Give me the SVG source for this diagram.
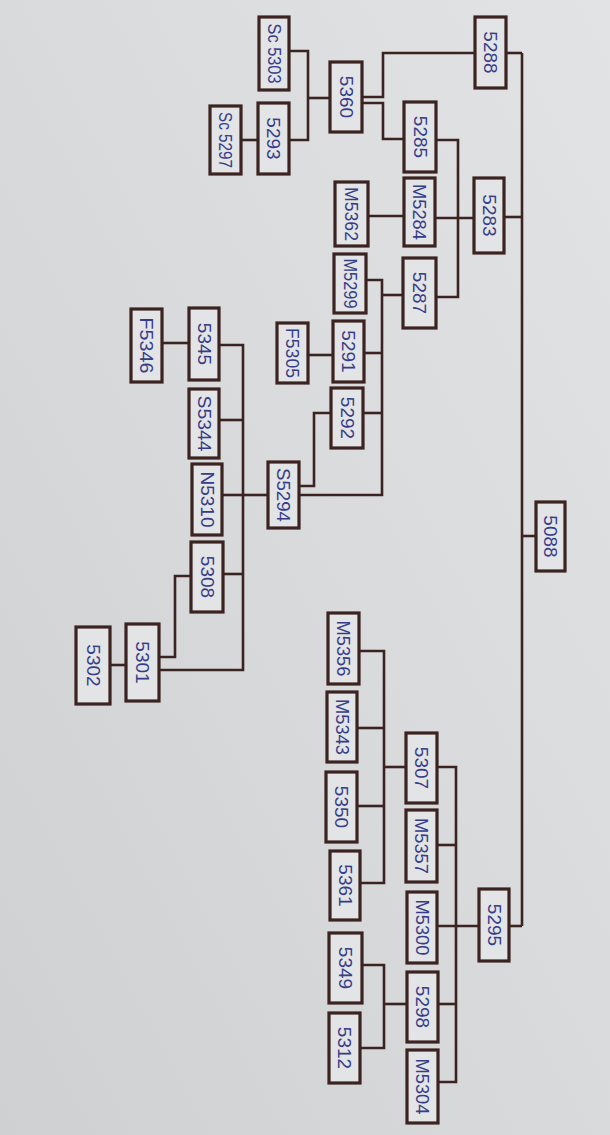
<svg xmlns="http://www.w3.org/2000/svg" width="610" height="1135" viewBox="0 0 610 1135">
<defs>
<linearGradient id="paper" x1="1" y1="0" x2="0" y2="1">
<stop offset="0" stop-color="#e2e3e4"/>
<stop offset="0.5" stop-color="#d9dadc"/>
<stop offset="1" stop-color="#cfd0d2"/>
</linearGradient>
<style>
.box{fill:#e3e4e6;stroke:#3a2320;stroke-width:3.2}
.ln{fill:none;stroke:#3a2320;stroke-width:2.6;stroke-linejoin:miter}
.t{font-family:"Liberation Sans",Arial,sans-serif;font-size:19px;fill:#363d88;text-anchor:middle;dominant-baseline:central}
</style>
</defs>
<rect width="610" height="1135" fill="url(#paper)"/>
<g id="connectors">
<path class="ln" d="M522,53 V926"/>
<path class="ln" d="M506,53 H522"/>
<path class="ln" d="M504,217 H522"/>
<path class="ln" d="M522,536 H536"/>
<path class="ln" d="M509,926 H522"/>
<path class="ln" d="M475,53 H383 V97 H362"/>
<path class="ln" d="M362,103 H383 V139 H404"/>
<path class="ln" d="M289,51 H308 V140 H289"/>
<path class="ln" d="M308,98 H330"/>
<path class="ln" d="M241,140 H258"/>
<path class="ln" d="M436,140 H458 V297 H436"/>
<path class="ln" d="M435,218 H474"/>
<path class="ln" d="M368,216 H404"/>
<path class="ln" d="M366,280 H382 V495 H299"/>
<path class="ln" d="M382,295 H403"/>
<path class="ln" d="M364,353 H382"/>
<path class="ln" d="M363,413 H382"/>
<path class="ln" d="M308,355 H333"/>
<path class="ln" d="M331,413 H314 V486 H299"/>
<path class="ln" d="M268,495 H243"/>
<path class="ln" d="M219,345 H243 V670 H159"/>
<path class="ln" d="M162,343 H189"/>
<path class="ln" d="M219,420 H243"/>
<path class="ln" d="M222,495 H243"/>
<path class="ln" d="M223,574 H243"/>
<path class="ln" d="M191,576 H175 V657 H159"/>
<path class="ln" d="M110,665 H126"/>
<path class="ln" d="M479,926 H437"/>
<path class="ln" d="M437,767 H456 V1082 H438"/>
<path class="ln" d="M437,845 H456"/>
<path class="ln" d="M438,1004 H456"/>
<path class="ln" d="M406,767 H384"/>
<path class="ln" d="M359,651 H384 V883 H360"/>
<path class="ln" d="M357,728 H384"/>
<path class="ln" d="M357,806 H384"/>
<path class="ln" d="M362,965 H384 V1048 H360"/>
<path class="ln" d="M407,1004 H384"/>
</g>
<g id="n5288"><rect class="box" x="475" y="17" width="31" height="71"/><text class="t" transform="translate(490.5,52.5) rotate(90)">5288</text></g>
<g id="n5360"><rect class="box" x="330" y="62" width="32" height="70"/><text class="t" transform="translate(346,97) rotate(90)">5360</text></g>
<g id="nSc5303"><rect class="box" x="259" y="17" width="30" height="73"/><text class="t" transform="translate(274,53.5) rotate(90)" textLength="60" lengthAdjust="spacingAndGlyphs">Sc 5303</text></g>
<g id="n5293"><rect class="box" x="258" y="103" width="31" height="71"/><text class="t" transform="translate(273.5,138.5) rotate(90)">5293</text></g>
<g id="nSc5297"><rect class="box" x="210" y="106" width="31" height="68"/><text class="t" transform="translate(225.5,140) rotate(90)" textLength="56" lengthAdjust="spacingAndGlyphs">Sc 5297</text></g>
<g id="n5285"><rect class="box" x="404" y="102" width="32" height="70"/><text class="t" transform="translate(420,137) rotate(90)">5285</text></g>
<g id="nM5362"><rect class="box" x="335" y="182" width="33" height="64"/><text class="t" transform="translate(351.5,214) rotate(90)" textLength="54" lengthAdjust="spacingAndGlyphs">M5362</text></g>
<g id="nM5284"><rect class="box" x="404" y="178" width="31" height="68"/><text class="t" transform="translate(419.5,212) rotate(90)" textLength="56" lengthAdjust="spacingAndGlyphs">M5284</text></g>
<g id="n5283"><rect class="box" x="474" y="178" width="30" height="75"/><text class="t" transform="translate(489,215.5) rotate(90)">5283</text></g>
<g id="nM5299"><rect class="box" x="334" y="254" width="32" height="59"/><text class="t" transform="translate(350,283.5) rotate(90)" textLength="50" lengthAdjust="spacingAndGlyphs">M5299</text></g>
<g id="n5287"><rect class="box" x="403" y="258" width="33" height="70"/><text class="t" transform="translate(419.5,293) rotate(90)">5287</text></g>
<g id="n5291"><rect class="box" x="333" y="321" width="31" height="61"/><text class="t" transform="translate(348.5,351.5) rotate(90)">5291</text></g>
<g id="nF5305"><rect class="box" x="277" y="323" width="31" height="60"/><text class="t" transform="translate(292.5,353) rotate(90)" textLength="50" lengthAdjust="spacingAndGlyphs">F5305</text></g>
<g id="n5292"><rect class="box" x="331" y="388" width="32" height="60"/><text class="t" transform="translate(347,418) rotate(90)">5292</text></g>
<g id="nF5346"><rect class="box" x="131" y="309" width="31" height="73"/><text class="t" transform="translate(146.5,345.5) rotate(90)" textLength="56" lengthAdjust="spacingAndGlyphs">F5346</text></g>
<g id="n5345"><rect class="box" x="189" y="308" width="30" height="72"/><text class="t" transform="translate(204,344) rotate(90)">5345</text></g>
<g id="nS5344"><rect class="box" x="189" y="389" width="30" height="69"/><text class="t" transform="translate(204,423.5) rotate(90)" textLength="56" lengthAdjust="spacingAndGlyphs">S5344</text></g>
<g id="nN5310"><rect class="box" x="192" y="464" width="30" height="71"/><text class="t" transform="translate(207,499.5) rotate(90)" textLength="56" lengthAdjust="spacingAndGlyphs">N5310</text></g>
<g id="nS5294"><rect class="box" x="268" y="462" width="31" height="66"/><text class="t" transform="translate(283.5,495) rotate(90)" textLength="54" lengthAdjust="spacingAndGlyphs">S5294</text></g>
<g id="n5308"><rect class="box" x="191" y="542" width="32" height="70"/><text class="t" transform="translate(207,577) rotate(90)">5308</text></g>
<g id="n5301"><rect class="box" x="126" y="624" width="33" height="77"/><text class="t" transform="translate(142.5,662.5) rotate(90)">5301</text></g>
<g id="n5302"><rect class="box" x="76" y="627" width="34" height="77"/><text class="t" transform="translate(93,665.5) rotate(90)">5302</text></g>
<g id="n5088"><rect class="box" x="536" y="502" width="29" height="69"/><text class="t" transform="translate(550.5,536.5) rotate(90)">5088</text></g>
<g id="nM5356"><rect class="box" x="328" y="613" width="31" height="71"/><text class="t" transform="translate(343.5,648.5) rotate(90)" textLength="56" lengthAdjust="spacingAndGlyphs">M5356</text></g>
<g id="nM5343"><rect class="box" x="327" y="692" width="30" height="70"/><text class="t" transform="translate(342,727) rotate(90)" textLength="56" lengthAdjust="spacingAndGlyphs">M5343</text></g>
<g id="n5350"><rect class="box" x="326" y="772" width="31" height="70"/><text class="t" transform="translate(341.5,807) rotate(90)">5350</text></g>
<g id="n5307"><rect class="box" x="406" y="733" width="31" height="70"/><text class="t" transform="translate(421.5,768) rotate(90)">5307</text></g>
<g id="nM5357"><rect class="box" x="406" y="810" width="31" height="72"/><text class="t" transform="translate(421.5,846) rotate(90)" textLength="56" lengthAdjust="spacingAndGlyphs">M5357</text></g>
<g id="n5361"><rect class="box" x="330" y="851" width="30" height="69"/><text class="t" transform="translate(345,885.5) rotate(90)">5361</text></g>
<g id="nM5300"><rect class="box" x="407" y="892" width="30" height="71"/><text class="t" transform="translate(422,927.5) rotate(90)" textLength="56" lengthAdjust="spacingAndGlyphs">M5300</text></g>
<g id="n5295"><rect class="box" x="479" y="889" width="30" height="72"/><text class="t" transform="translate(494,925) rotate(90)">5295</text></g>
<g id="n5349"><rect class="box" x="329" y="933" width="33" height="70"/><text class="t" transform="translate(345.5,968) rotate(90)">5349</text></g>
<g id="n5298"><rect class="box" x="407" y="972" width="31" height="70"/><text class="t" transform="translate(422.5,1007) rotate(90)">5298</text></g>
<g id="n5312"><rect class="box" x="329" y="1013" width="31" height="70"/><text class="t" transform="translate(344.5,1048) rotate(90)">5312</text></g>
<g id="nM5304"><rect class="box" x="407" y="1050" width="31" height="73"/><text class="t" transform="translate(422.5,1086.5) rotate(90)" textLength="56" lengthAdjust="spacingAndGlyphs">M5304</text></g>
</svg>
